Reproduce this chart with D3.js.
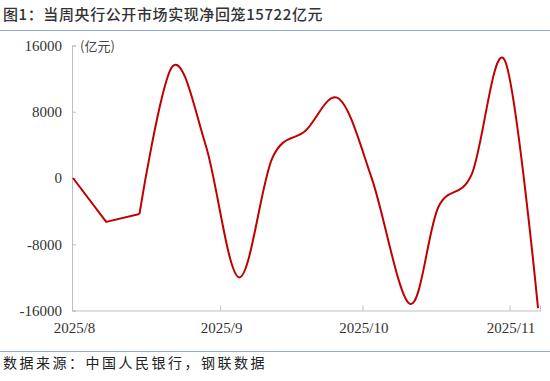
<!DOCTYPE html>
<html>
<head>
<meta charset="utf-8">
<script src="https://cdn.jsdelivr.net/npm/d3@7"></script>
<style>
  body { margin: 0; background: #fff; }
  svg { display: block; }
</style>
</head>
<body>
<svg id="chart" width="550" height="381"></svg>
<script>
// weekly net injection (亿元)
const dates = ["2025-08-01", "2025-08-08", "2025-08-15", "2025-08-22", "2025-08-29",
    "2025-09-05", "2025-09-12", "2025-09-19", "2025-09-26", "2025-10-03",
    "2025-10-11", "2025-10-17", "2025-10-24", "2025-10-31", "2025-11-07"];
const netValues = [0, -5300, -4350, 13500, 3900, -12000, 2400, 5700, 9600, -100,
    -15200, -3500, 400, 14200, -15722];
const yTicks = [-16000, -8000, 0, 8000, 16000];
const monthTicks = ["2025-08-01", "2025-09-01", "2025-10-01", "2025-11-01"];

const title = "图1：当周央行公开市场实现净回笼15722亿元";
const source = "数据来源：中国人民银行，钢联数据";

const parse = d3.timeParse("%Y-%m-%d");
const data = dates.map((d, i) => ({date: parse(d), value: netValues[i]}));

const svg = d3.select("#chart");
const plot = {left: 72, right: 540, top: 45.5, bottom: 310.5};

const x = d3.scaleTime()
    .domain([new Date(2025, 6, 31, 19), new Date(2025, 10, 7, 10)])
    .range([plot.left, plot.right]);
const y = d3.scaleLinear()
    .domain([-16000, 16000])
    .range([plot.bottom, plot.top]);

// title + rules
svg.append("text")
    .attr("x", 3).attr("y", 20)
    .style("font", "500 15px 'Noto Sans CJK SC'")
    .style("letter-spacing", "0.6px")
    .attr("fill", "#333")
    .text(title);
svg.append("line")
    .attr("x1", 0).attr("x2", 550).attr("y1", 30.5).attr("y2", 30.5)
    .attr("stroke", "#8eaadb").attr("stroke-width", 1.2);
svg.append("line")
    .attr("x1", 0).attr("x2", 550).attr("y1", 351.5).attr("y2", 351.5)
    .attr("stroke", "#8eaadb").attr("stroke-width", 1.2);
svg.append("text")
    .attr("x", 3).attr("y", 368)
    .style("font", "14px 'Noto Sans CJK SC'")
    .style("letter-spacing", "2.5px")
    .attr("fill", "#222")
    .text(source);

// y axis
const yAxis = svg.append("g")
    .attr("transform", "translate(" + plot.left + ",0)")
    .call(d3.axisLeft(y).tickValues(yTicks).tickFormat(d => String(d))
        .tickSize(-4).tickPadding(10));
yAxis.select(".domain").attr("stroke", "#bfbfbf");
yAxis.selectAll(".tick line").attr("stroke", "#bfbfbf");
yAxis.selectAll("text")
    .style("font", "15px 'Liberation Serif'")
    .attr("fill", "#333");

// x axis
const xAxis = svg.append("g")
    .attr("transform", "translate(0," + plot.bottom + ")")
    .call(d3.axisBottom(x)
        .tickValues(monthTicks.map(parse))
        .tickFormat(d3.timeFormat("%Y/%-m"))
        .tickSize(-5).tickPadding(12));
xAxis.select(".domain").attr("stroke", "#bfbfbf");
xAxis.selectAll(".tick line").attr("stroke", "#bfbfbf");
xAxis.selectAll(".tick").filter((d, i) => i === 0).select("line").remove();
xAxis.selectAll("text")
    .attr("dx", 1)
    .style("font", "15px 'Liberation Serif'")
    .attr("fill", "#333");

// unit
svg.append("text")
    .attr("x", 80).attr("y", 51)
    .style("font", "13px 'Noto Sans CJK SC'")
    .attr("fill", "#444")
    .text("(亿元)");

// series: first weeks drawn straight, the rest smoothed
const straight = d3.line()
    .x(d => x(d.date))
    .y(d => y(d.value));
const smooth = d3.line()
    .x(d => x(d.date))
    .y(d => y(d.value))
    .curve(d3.curveCardinal.tension(0));
svg.append("path")
    .attr("d", straight(data.slice(0, 3)))
    .attr("fill", "none")
    .attr("stroke", "#c00000")
    .attr("stroke-width", 2)
    .attr("stroke-linejoin", "round");
svg.append("path")
    .attr("d", smooth(data.slice(2)))
    .attr("fill", "none")
    .attr("stroke", "#c00000")
    .attr("stroke-width", 2);
</script>
</body>
</html>
